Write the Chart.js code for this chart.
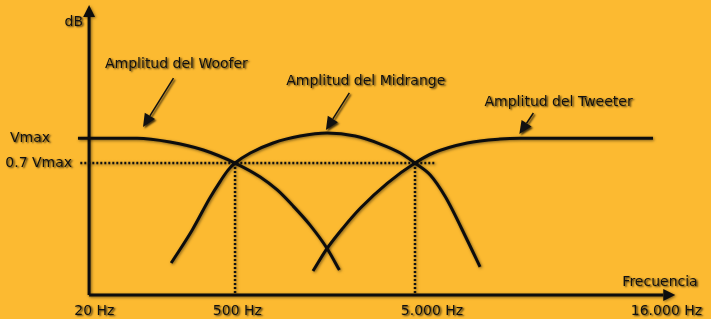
<!DOCTYPE html>
<html>
<head>
<meta charset="utf-8">
<script src="https://cdn.jsdelivr.net/npm/chart.js@4"></script>
<style>
  html, body { margin: 0; padding: 0; background: #fcba31; }
  #wrap { width: 711px; height: 319px; position: relative; }
</style>
</head>
<body>
<div id="wrap"><canvas id="chart"></canvas></div>
<script>
// posiciones del eje x en unidades relativas (0 = eje y, 100 = punta de flecha)
const xTickLabels = ['20 Hz', '500 Hz', '5.000 Hz', '16.000 Hz'];
const xTickPos = [0.9, 25.3, 58.5, 98.5];

const yTickLabels = ['Vmax', '0.7 Vmax'];
const yTickPos = [1.0, 0.842];

// curvas (amplitud relativa, Vmax = 1)
const wooferX = [-1.9, 8.2, 13.8, 19.5, 24.9, 29.2, 32.1, 34.8, 37.7, 40.6, 42.7];
const wooferY = [1.0, 1.0, 0.976, 0.925, 0.842, 0.753, 0.670, 0.568, 0.446, 0.297, 0.159];

const midX = [14.0, 17.6, 20.6, 22.4, 23.7, 24.9, 27.5, 31.4, 36.0, 40.6, 45.4, 49.7, 53.1, 55.6, 58.2, 60.8, 64.5, 66.7];
const midY = [0.204, 0.415, 0.619, 0.727, 0.797, 0.842, 0.906, 0.970, 1.014, 1.033, 1.014, 0.963, 0.906, 0.842, 0.766, 0.625, 0.351, 0.179];

const tweeterX = [38.2, 40.6, 43.3, 46.3, 50.9, 55.6, 58.7, 64.5, 70.1, 73.5, 96.2];
const tweeterY = [0.153, 0.297, 0.427, 0.555, 0.714, 0.842, 0.906, 0.970, 0.995, 1.0, 1.0];

// puntos de cruce (0.7 Vmax)
const crossX = [24.9, 55.6];
const crossY = 0.842;
const guideStart = -1.5, guideEnd = 59.0;

const notes = [
  { text: 'Amplitud del Woofer',   tx: 14.9, ty: 1.474, from: [14.4, 1.384], to: [9.2, 1.072] },
  { text: 'Amplitud del Midrange', tx: 47.2, ty: 1.365, from: [44.4, 1.289], to: [40.4, 1.053] },
  { text: 'Amplitud del Tweeter',  tx: 80.1, ty: 1.231, from: [75.8, 1.161], to: [73.4, 1.027] }
];

const toPts = (xs, ys) => xs.map((x, i) => ({ x: x, y: ys[i] }));

const curve = (data) => ({
  data: data,
  borderColor: '#0d0d0d',
  borderWidth: 3,
  pointRadius: 0,
  fill: false,
  cubicInterpolationMode: 'monotone'
});
const dotted = (data) => ({
  data: data,
  borderColor: '#111',
  borderWidth: 2.5,
  borderDash: [2, 2],
  pointRadius: 0,
  fill: false
});

function arrow(ctx, x1, y1, x2, y2, len, half) {
  const a = Math.atan2(y2 - y1, x2 - x1);
  const bx = x2 - len * Math.cos(a), by = y2 - len * Math.sin(a);
  ctx.beginPath();
  ctx.moveTo(x1, y1);
  ctx.lineTo(bx, by);
  ctx.stroke();
  ctx.beginPath();
  ctx.moveTo(x2, y2);
  ctx.lineTo(bx + half * Math.sin(a), by - half * Math.cos(a));
  ctx.lineTo(bx - half * Math.sin(a), by + half * Math.cos(a));
  ctx.closePath();
  ctx.fill();
}

function shadow(ctx, alpha, blur, off) {
  ctx.shadowColor = 'rgba(0,0,0,' + alpha + ')';
  ctx.shadowBlur = blur;
  ctx.shadowOffsetX = off;
  ctx.shadowOffsetY = off;
}

const overlay = {
  id: 'overlay',
  beforeDatasetsDraw(chart) {
    const ctx = chart.ctx, xs = chart.scales.x, ys = chart.scales.y;
    const X = v => xs.getPixelForValue(v), Y = v => ys.getPixelForValue(v);
    ctx.save();
    shadow(ctx, 0.5, 3, 1);
    ctx.strokeStyle = '#0d0d0d';
    ctx.fillStyle = '#0d0d0d';
    ctx.lineWidth = 3;
    // ejes con flecha
    arrow(ctx, X(0), Y(0), X(0), Y(1.85), 12, 6);
    arrow(ctx, X(0), Y(0), X(100), Y(0), 12, 6);
    ctx.restore();
    ctx.save();
    shadow(ctx, 0.5, 3, 1);
  },
  afterDatasetsDraw(chart) {
    const ctx = chart.ctx, xs = chart.scales.x, ys = chart.scales.y;
    const X = v => xs.getPixelForValue(v), Y = v => ys.getPixelForValue(v);
    ctx.restore();
    ctx.save();
    shadow(ctx, 0.75, 2, 1.5);
    ctx.fillStyle = '#111';
    ctx.strokeStyle = '#111';
    ctx.font = '14px "DejaVu Sans", Verdana, sans-serif';
    ctx.textBaseline = 'middle';

    ctx.textAlign = 'center';
    xTickLabels.forEach((t, i) => ctx.fillText(t, X(xTickPos[i]), Y(-0.102)));
    ctx.fillText('dB', X(-2.6), Y(1.742));
    ctx.fillText('Frecuencia', X(97.4), Y(0.083));

    ctx.textAlign = 'left';
    ctx.fillText(yTickLabels[0], X(-13.5), Y(yTickPos[0]));
    ctx.fillText(yTickLabels[1], X(-14.3), Y(yTickPos[1]));

    ctx.textAlign = 'center';
    ctx.lineWidth = 1.5;
    notes.forEach(n => {
      ctx.fillText(n.text, X(n.tx), Y(n.ty));
      arrow(ctx, X(n.from[0]), Y(n.from[1]), X(n.to[0]), Y(n.to[1]), 13, 6);
    });
    ctx.restore();
  }
};

new Chart(document.getElementById('chart'), {
  type: 'line',
  data: {
    datasets: [
      curve(toPts(wooferX, wooferY)),
      curve(toPts(midX, midY)),
      curve(toPts(tweeterX, tweeterY)),
      dotted([{ x: guideStart, y: crossY }, { x: guideEnd, y: crossY }]),
      dotted([{ x: crossX[0], y: crossY }, { x: crossX[0], y: 0 }]),
      dotted([{ x: crossX[1], y: crossY }, { x: crossX[1], y: 0 }])
    ]
  },
  options: {
    responsive: true,
    maintainAspectRatio: false,
    animation: false,
    layout: { padding: 0 },
    plugins: { legend: { display: false }, tooltip: { enabled: false } },
    scales: {
      x: { type: 'linear', display: false, min: -15.2, max: 106.1 },
      y: { type: 'linear', display: false, min: -0.153, max: 1.882 }
    }
  },
  plugins: [overlay]
});
</script>
</body>
</html>
